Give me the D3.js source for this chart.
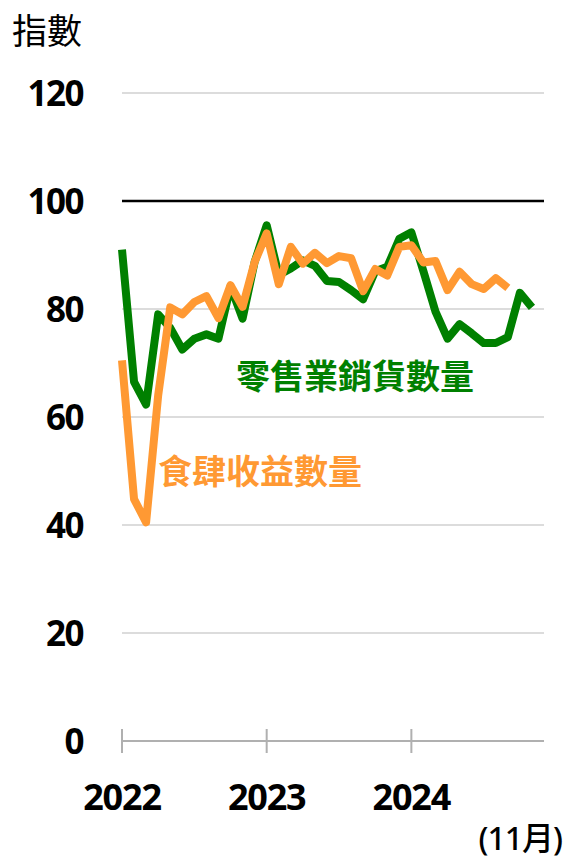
<!DOCTYPE html>
<html>
<head>
<meta charset="utf-8">
<script src="https://cdn.jsdelivr.net/npm/d3@7"></script>
<style>
  body { margin: 0; background: #fff; }
  text { font-family: "Noto Sans", "Noto Sans CJK TC", sans-serif; }
</style>
</head>
<body>
<div id="chart"></div>
<script>
// monthly index, Jan 2022 onwards
var retailVolume = [91, 66.5, 62.3, 79, 76.5, 72.5, 74.5, 75.3, 74.5, 84.2, 78.2, 88.7, 95.5,
    86.3, 87.5, 89, 88, 85.2, 85, 83.5, 81.8, 87, 87.8, 93, 94.2,
    87, 79.5, 74.5, 77.2, 75.5, 73.7, 73.7, 74.8, 83, 80.3];
var restaurantVolume = [70.5, 44.8, 40.5, 64, 80.3, 79, 81.3, 82.4, 78.3, 84.4, 80.4, 88.7, 94,
    84.6, 91.5, 88.4, 90.4, 88.5, 89.8, 89.4, 83.3, 87.4, 86.2, 91.5, 91.8,
    88.6, 88.9, 83.5, 86.9, 84.6, 83.7, 85.7, 83.9];
var yTicks = [0, 20, 40, 60, 80, 100, 120];
var yearTicks = [0, 12, 24];
var yearLabels = ["2022", "2023", "2024"];

var width = 568, height = 858;
var margin = {left: 122, right: 24, top: 93, bottom: 117};

var svg = d3.select("#chart").append("svg")
    .attr("width", width)
    .attr("height", height);

var x = d3.scaleLinear()
    .domain([0, 35])
    .range([margin.left, width - margin.right]);

var y = d3.scaleLinear()
    .domain([0, 120])
    .range([height - margin.bottom, margin.top]);

// gridlines
svg.selectAll(".grid")
    .data(yTicks.filter(function(d) { return d > 0; }))
    .enter().append("line")
    .attr("x1", x(0))
    .attr("x2", x(35))
    .attr("y1", function(d) { return y(d); })
    .attr("y2", function(d) { return y(d); })
    .attr("stroke", function(d) { return d == 100 ? "#000" : "#dcdcdc"; })
    .attr("stroke-width", function(d) { return d == 100 ? 2.5 : 2; });

// y labels
svg.selectAll(".ylab")
    .data(yTicks)
    .enter().append("text")
    .attr("x", 83)
    .attr("y", function(d) { return y(d); })
    .attr("dy", "0.36em")
    .attr("text-anchor", "end")
    .style("font-size", "35px")
    .style("font-weight", "bold")
    .style("letter-spacing", "-1.5px")
    .text(function(d) { return d; });

svg.append("text")
    .attr("x", 12)
    .attr("y", 44)
    .style("font-size", "35px")
    .text("指數");

// x axis
svg.append("line")
    .attr("x1", x(0))
    .attr("x2", x(35))
    .attr("y1", y(0))
    .attr("y2", y(0))
    .attr("stroke", "#b0b0b0")
    .attr("stroke-width", 2);

svg.selectAll(".xtick")
    .data(yearTicks)
    .enter().append("line")
    .attr("x1", function(d) { return x(d); })
    .attr("x2", function(d) { return x(d); })
    .attr("y1", y(0) - 12)
    .attr("y2", y(0) + 12)
    .attr("stroke", "#b0b0b0")
    .attr("stroke-width", 2);

svg.selectAll(".xlab")
    .data(yearTicks)
    .enter().append("text")
    .attr("x", function(d) { return x(d); })
    .attr("y", 810)
    .attr("text-anchor", "middle")
    .style("font-size", "36px")
    .style("font-weight", "bold")
    .style("letter-spacing", "-1.2px")
    .text(function(d, i) { return yearLabels[i]; });

svg.append("text")
    .attr("x", 562)
    .attr("y", 850)
    .attr("text-anchor", "end")
    .style("font-size", "32px")
    .style("font-weight", "500")
    .style("letter-spacing", "-1px")
    .text("(11月)");

var line = d3.line()
    .x(function(d, i) { return x(i); })
    .y(function(d) { return y(d); });

svg.append("path")
    .datum(retailVolume)
    .attr("d", line)
    .attr("fill", "none")
    .attr("stroke", "#008000")
    .attr("stroke-width", 8)
    .attr("stroke-linejoin", "round");

svg.append("path")
    .datum(restaurantVolume)
    .attr("d", line)
    .attr("fill", "none")
    .attr("stroke", "#ff9933")
    .attr("stroke-width", 8)
    .attr("stroke-linejoin", "round");

// series labels
svg.append("text")
    .attr("x", 236)
    .attr("y", 389)
    .attr("fill", "#008000")
    .style("font-size", "34px")
    .style("font-weight", "bold")
    .text("零售業銷貨數量");

svg.append("text")
    .attr("x", 158)
    .attr("y", 484)
    .attr("fill", "#ff9933")
    .style("font-size", "34px")
    .style("font-weight", "bold")
    .text("食肆收益數量");
</script>
</body>
</html>
